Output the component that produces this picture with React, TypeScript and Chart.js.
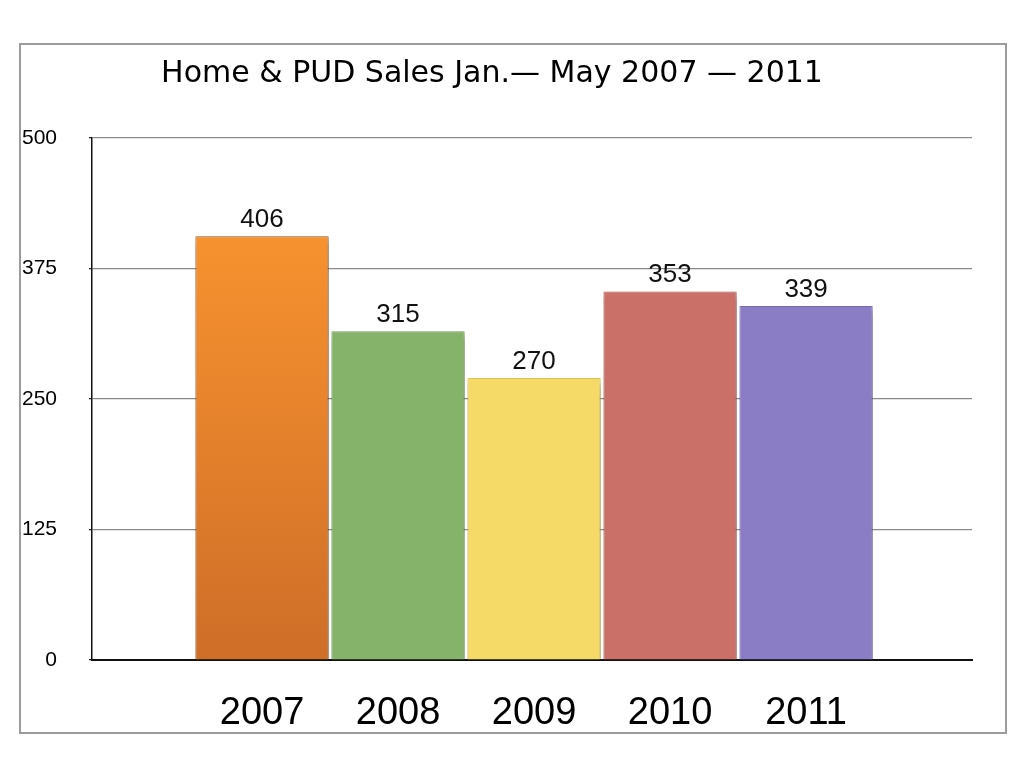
import React, { useEffect, useRef } from "react";
import { Chart, registerables } from "chart.js";

Chart.register(...registerables);

const TITLE = "Home & PUD Sales Jan.\u2014 May 2007 \u2014 2011";
const years = [2007, 2008, 2009, 2010, 2011];
const sales = [406, 315, 270, 353, 339];
const yTicks = [0, 125, 250, 375, 500];
const barColors = ["#F08A2C", "#86B36A", "#F5DA68", "#CB7068", "#8B7CC6"];
const barBorders = ["#9A5A22", "#7DA463", "#E6CB5C", "#BC645D", "#8070BA"];

const FONT = "'Liberation Sans', Arial, sans-serif";

const shadowPlugin = {
  id: "barShadow",
  beforeDatasetsDraw(chart: any) {
    const ctx = chart.ctx;
    ctx.save();
    ctx.shadowColor = "rgba(0,0,0,0.35)";
    ctx.shadowBlur = 8;
    ctx.shadowOffsetX = 3;
    ctx.shadowOffsetY = 4;
  },
  afterDatasetsDraw(chart: any) {
    chart.ctx.restore();
  },
};

const valueLabelPlugin = {
  id: "valueLabels",
  afterDraw(chart: any) {
    const ctx = chart.ctx;
    const meta = chart.getDatasetMeta(0);
    const data = chart.data.datasets[0].data as any[];
    ctx.save();
    ctx.font = `26px ${FONT}`;
    ctx.fillStyle = "#111111";
    ctx.textAlign = "center";
    ctx.textBaseline = "alphabetic";
    meta.data.forEach((bar: any, i: number) => {
      const v = data[i].y;
      ctx.fillText(String(v), bar.x, bar.y - 9);
    });
    ctx.restore();
  },
};

export default function App() {
  const ref = useRef<HTMLCanvasElement | null>(null);

  useEffect(() => {
    if (!ref.current) return;
    const ctx2d = ref.current.getContext("2d")!;
    const grad = ctx2d.createLinearGradient(0, 237, 0, 660);
    grad.addColorStop(0, "#F7922F");
    grad.addColorStop(1, "#CE6E28");
    const colors = barColors.map((c, i) => (i === 0 ? grad : c));

    const chart = new Chart(ref.current, {
      type: "bar",
      data: {
        datasets: [
          {
            data: years.map((y, i) => ({ x: y, y: sales[i] })),
            backgroundColor: colors as any,
            borderColor: barBorders,
            borderWidth: 1,
            barPercentage: 0.98,
            categoryPercentage: 1,
          },
        ],
      },
      options: {
        animation: false,
        responsive: false,
        maintainAspectRatio: false,
        layout: { padding: { left: 12, right: 52, top: 44, bottom: 22 } },
        plugins: {
          legend: { display: false },
          tooltip: { enabled: false },
          title: {
            display: true,
            text: TITLE,
            color: "#000000",
            font: { family: "'DejaVu Sans', Verdana, sans-serif", size: 30, weight: "normal", lineHeight: 1.2 },
            padding: { top: 12, bottom: 46 },
          },
        },
        scales: {
          x: {
            type: "linear",
            bounds: "data",
            offset: false,
            min: 2005.75,
            max: 2012.22,
            afterBuildTicks(scale: any) {
              scale.ticks = years.map((v) => ({ value: v }));
            },
            afterFit(scale: any) {
              scale.height = 80;
            },
            grid: { display: false, drawTicks: false },
            border: { display: true, color: "#111111", width: 2 },
            ticks: {
              padding: 31,
              color: "#000000",
              font: { family: FONT, size: 38 },
              callback: (v: any) => String(v),
            },
          },
          y: {
            min: 0,
            max: 500,
            afterBuildTicks(scale: any) {
              scale.ticks = yTicks.map((v) => ({ value: v }));
            },
            afterFit(scale: any) {
              scale.width = 80;
            },
            grid: {
              color: "#8a8a8a",
              lineWidth: 1.2,
              tickLength: 3,
              tickColor: "#222222",
            },
            border: { display: true, color: "#111111", width: 1.5 },
            ticks: {
              padding: 32,
              color: "#000000",
              font: { family: FONT, size: 21 },
              callback: (v: any) => String(v),
            },
          },
        },
      },
      plugins: [shadowPlugin, valueLabelPlugin],
    });
    return () => chart.destroy();
  }, []);

  return (
    <div style={{ position: "absolute", left: 0, top: 0, width: 1024, height: 762, background: "#ffffff" }}>
      <div
        style={{
          position: "absolute",
          left: 19,
          top: 43,
          width: 988,
          height: 691,
          boxSizing: "border-box",
          border: "2px solid #9c9c9c",
        }}
      />
      <canvas ref={ref} width={1024} height={762} style={{ position: "absolute", left: 0, top: 0 }} />
    </div>
  );
}
